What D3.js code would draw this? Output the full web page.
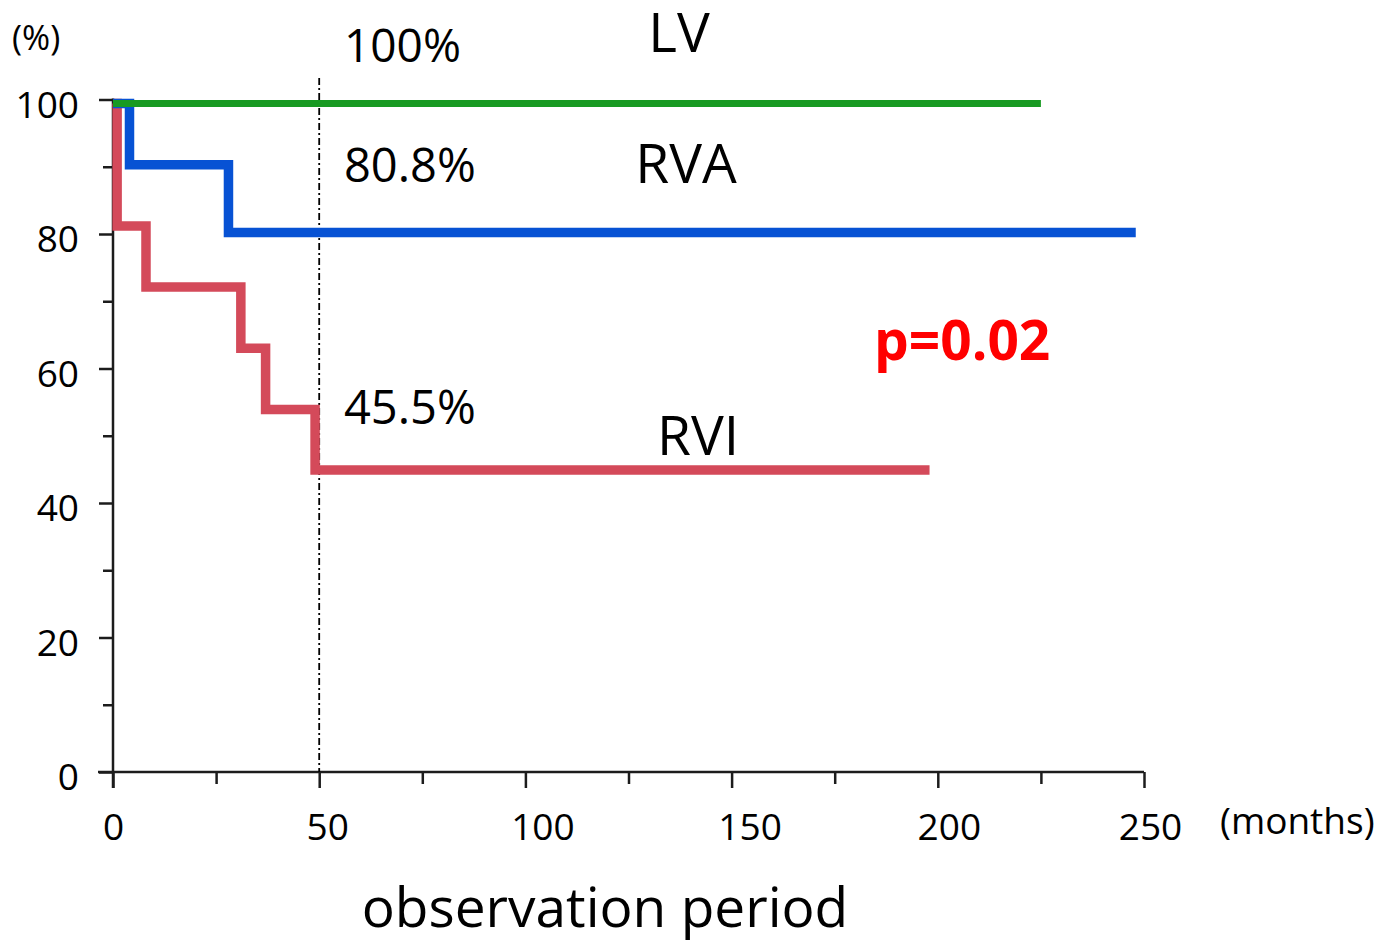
<!DOCTYPE html>
<html>
<head>
<meta charset="utf-8">
<script src="https://cdn.jsdelivr.net/npm/d3@7/dist/d3.min.js"></script>
<style>
  html, body { margin: 0; padding: 0; background: #fff; }
  svg { display: block; font-family: "Open Sans", "Noto Sans", sans-serif; }
</style>
</head>
<body>
<svg id="chart" width="1390" height="943"></svg>
<script>
// Kaplan-Meier style curves (months, %)
const lvTimes = [0, 225];
const lvSurv = [100, 100];
const rvaTimes = [0, 4, 28, 248];
const rvaSurv = [100, 90.9, 80.8, 80.8];
const rviTimes = [0, 1, 8, 31, 37, 49, 198];
const rviSurv = [100, 81.8, 72.7, 63.6, 54.5, 45.5, 45.5];

const xTicks = [0, 50, 100, 150, 200, 250];
const xMinorTicks = [25, 75, 125, 175, 225];
const yTicks = [0, 20, 40, 60, 80, 100];
const yMinorTicks = [10, 30, 50, 70, 90];
const cutoff = 50; // dashed reference at 50 months

const seriesNames = ["LV", "RVA", "RVI"];
const cutoffLabels = ["100%", "80.8%", "45.5%"];
const pLabel = "p=0.02";

// Layout
const axisColor = "#1c1c1c",
  axisWidth = 2.5,
  tickFont = 37,
  curveShift = 4; // the original curves sit a few px under their values

const svg = d3.select("#chart");

const x = d3.scaleLinear().domain([0, 250]).range([113, 1144]);
const y = d3.scaleLinear().domain([0, 100]).range([772, 99.5]);

// Axes lines (x axis pokes out left of the y axis, y axis pokes below)
svg.append("line")
  .attr("x1", x(0) - 15).attr("x2", x(250))
  .attr("y1", y(0)).attr("y2", y(0))
  .attr("stroke", axisColor).attr("stroke-width", axisWidth);

svg.append("line")
  .attr("x1", x(0)).attr("x2", x(0))
  .attr("y1", y(100) - 1).attr("y2", y(0) + 16)
  .attr("stroke", axisColor).attr("stroke-width", axisWidth);

// Y ticks
const yAxis = svg.append("g")
  .attr("transform", "translate(" + x(0) + ",0)")
  .call(d3.axisLeft(y).tickValues(yTicks).tickSize(14).tickSizeOuter(0).tickPadding(20));
yAxis.select(".domain").remove();
yAxis.selectAll("line").attr("stroke", axisColor).attr("stroke-width", axisWidth);
yAxis.selectAll("text")
  .attr("font-size", tickFont)
  .attr("font-family", "Open Sans")
  .attr("fill", "#000")
  .attr("dy", "0.48em");

const yMinor = svg.append("g")
  .attr("transform", "translate(" + x(0) + ",0)")
  .call(d3.axisLeft(y).tickValues(yMinorTicks).tickSize(10).tickFormat(""));
yMinor.select(".domain").remove();
yMinor.selectAll("line").attr("stroke", axisColor).attr("stroke-width", axisWidth);

// X ticks
const xLabelShift = [0, 8, 17, 18, 11, 6];
const xAxis = svg.append("g")
  .attr("transform", "translate(0," + y(0) + ")")
  .call(d3.axisBottom(x).tickValues(xTicks).tickSize(16).tickSizeOuter(0).tickPadding(26));
xAxis.select(".domain").remove();
xAxis.selectAll("line").attr("stroke", axisColor).attr("stroke-width", axisWidth);
xAxis.selectAll("text")
  .attr("font-size", tickFont)
  .attr("font-family", "Open Sans")
  .attr("fill", "#000")
  .attr("dx", (d, i) => xLabelShift[i]);

const xMinor = svg.append("g")
  .attr("transform", "translate(0," + y(0) + ")")
  .call(d3.axisBottom(x).tickValues(xMinorTicks).tickSize(12).tickFormat(""));
xMinor.select(".domain").remove();
xMinor.selectAll("line").attr("stroke", axisColor).attr("stroke-width", axisWidth);

// Dash-dot reference line at 50 months
svg.append("line")
  .attr("x1", x(cutoff)).attr("x2", x(cutoff))
  .attr("y1", 78).attr("y2", y(0))
  .attr("stroke", "#000")
  .attr("stroke-width", 1.8)
  .attr("stroke-dasharray", "7 3 2 3");

// Survival curves
const line = d3.line()
  .x(d => x(d[0]))
  .y(d => y(d[1]))
  .curve(d3.curveStepAfter);

const curves = svg.append("g").attr("transform", "translate(0," + curveShift + ")");

const series = [
  { times: rviTimes, surv: rviSurv, color: "#d44a5a", width: 9.5 },
  { times: rvaTimes, surv: rvaSurv, color: "#0752d4", width: 9.5 },
  { times: lvTimes, surv: lvSurv, color: "#189a22", width: 7 }
];

series.forEach(s => {
  curves.append("path")
    .datum(d3.zip(s.times, s.surv))
    .attr("d", line)
    .attr("fill", "none")
    .attr("stroke", s.color)
    .attr("stroke-width", s.width)
    .attr("stroke-linejoin", "miter");
});

// Annotations
function label(txt, px, py, size, opts) {
  opts = opts || {};
  return svg.append("text")
    .text(txt)
    .attr("x", px)
    .attr("y", py)
    .attr("font-size", size)
    .attr("font-family", "Open Sans")
    .attr("font-weight", opts.weight || "normal")
    .attr("fill", opts.fill || "#000")
    .attr("text-anchor", opts.anchor || "start");
}

label("(%)", 12, 50, 34);
label(cutoffLabels[0], 344, 62, 46);
label(cutoffLabels[1], 344, 182, 47);
label(cutoffLabels[2], 344, 424, 47);

label(seriesNames[0], 679, 52, 55, { anchor: "middle" });
label(seriesNames[1], 686, 183, 55, { anchor: "middle" });
label(seriesNames[2], 698, 455, 55, { anchor: "middle" });

label(pLabel, 874, 360, 55, { weight: "bold", fill: "#ff0000" });

label("(months)", 1220, 834, 37);
label("observation period", 605, 927, 55, { anchor: "middle" });
</script>
</body>
</html>
